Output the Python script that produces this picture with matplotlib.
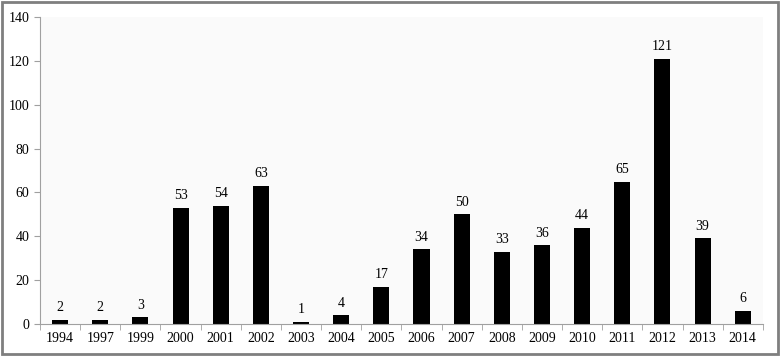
import matplotlib.pyplot as plt
from matplotlib.patches import Rectangle
import numpy as np

years = ['1994', '1997', '1999', '2000', '2001', '2002', '2003', '2004', '2005',
         '2006', '2007', '2008', '2009', '2010', '2011', '2012', '2013', '2014']
counts = [2, 2, 3, 53, 54, 63, 1, 4, 17, 34, 50, 33, 36, 44, 65, 121, 39, 6]
yticks = [0, 20, 40, 60, 80, 100, 120, 140]

plt.rcParams['font.family'] = ['Liberation Serif', 'DejaVu Serif']

fig = plt.figure(figsize=(7.8, 3.56), dpi=100)
fig.patches.append(Rectangle((0.003, 0.006), 0.994, 0.988, transform=fig.transFigure,
                             fill=False, edgecolor='#7f7f7f', linewidth=2))
ax = fig.add_axes([0.0513, 0.0899, 0.9267, 0.8621])
ax.set_facecolor('#fafafa')

x = np.arange(len(years))
ax.bar(x, counts, width=0.4, color='black')
for xi, v in zip(x, counts):
    ax.annotate(str(v), (xi, v), xytext=(0, 4), textcoords='offset points',
                ha='center', va='bottom', fontsize=10)

ax.set_xlim(-0.5, len(years) - 0.5)
ax.set_ylim(0, 140)
ax.set_yticks(yticks)
ax.set_xticks(x)
ax.set_xticklabels(years)
ax.set_xticks(np.arange(-0.5, len(years)), minor=True)
ax.tick_params(axis='x', which='major', length=0, labelsize=10, pad=6)
ax.tick_params(axis='x', which='minor', length=4, color='#a0a0a0')
ax.tick_params(axis='y', length=4, color='#a0a0a0', labelsize=10)

for s in ['top', 'right']:
    ax.spines[s].set_visible(False)
for s in ['left', 'bottom']:
    ax.spines[s].set_color('#a0a0a0')

fig.savefig('out.png', dpi=100)
